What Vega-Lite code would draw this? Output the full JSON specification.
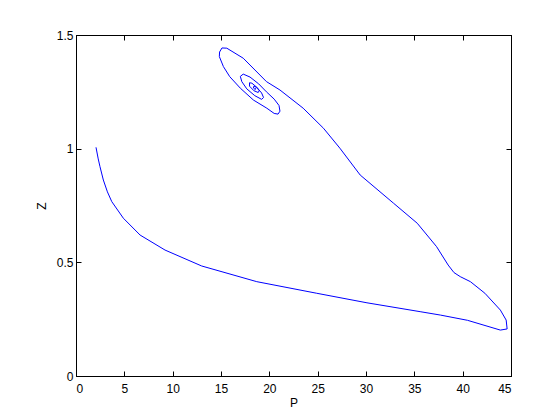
{
  "$schema": "https://vega.github.io/schema/vega-lite/v6.json",
  "width": 435,
  "height": 341,
  "autosize": {"type": "none"},
  "padding": {"left": 76, "top": 35, "right": 47, "bottom": 36},
  "background": "white",
  "config": {
    "view": {"stroke": "#000", "strokeWidth": 1},
    "axis": {
      "domainColor": "#000", "tickColor": "#000", "grid": false,
      "labelFont": "Liberation Sans", "labelFontSize": 12, "labelColor": "#000",
      "titleFont": "Liberation Sans", "titleFontSize": 12, "titleFontWeight": "normal", "titleColor": "#000",
      "tickSize": -5
    }
  },
  "data": {"values": [
    {"i":1,"P":2.07,"Z":1.006},{"i":2,"P":2.3,"Z":0.955},{"i":3,"P":2.48,"Z":0.921},{"i":4,"P":2.83,"Z":0.862},
    {"i":5,"P":3.25,"Z":0.81},{"i":6,"P":3.7,"Z":0.767},{"i":7,"P":4.9,"Z":0.694},{"i":8,"P":6.63,"Z":0.62},
    {"i":9,"P":9.21,"Z":0.554},{"i":10,"P":13.0,"Z":0.484},{"i":11,"P":18.7,"Z":0.415},{"i":12,"P":24.9,"Z":0.364},
    {"i":13,"P":30.1,"Z":0.322},{"i":14,"P":35.6,"Z":0.283},{"i":15,"P":37.7,"Z":0.268},{"i":16,"P":40.5,"Z":0.245},
    {"i":17,"P":43.9,"Z":0.202},{"i":18,"P":44.6,"Z":0.207},{"i":19,"P":44.5,"Z":0.246},{"i":20,"P":43.9,"Z":0.29},
    {"i":21,"P":42.3,"Z":0.364},{"i":22,"P":40.8,"Z":0.415},{"i":23,"P":39.75,"Z":0.437},{"i":24,"P":39.1,"Z":0.455},
    {"i":25,"P":38.5,"Z":0.488},{"i":26,"P":37.3,"Z":0.569},{"i":27,"P":35.3,"Z":0.672},{"i":28,"P":32.85,"Z":0.76},
    {"i":29,"P":29.4,"Z":0.884},{"i":30,"P":27.3,"Z":1.002},{"i":31,"P":25.6,"Z":1.09},{"i":32,"P":23.5,"Z":1.178},
    {"i":33,"P":21.1,"Z":1.258},{"i":34,"P":19.7,"Z":1.295},{"i":35,"P":17.3,"Z":1.398},{"i":36,"P":15.6,"Z":1.442},
    {"i":37,"P":15.1,"Z":1.443},{"i":38,"P":14.85,"Z":1.425},{"i":39,"P":14.83,"Z":1.405},{"i":40,"P":15.25,"Z":1.361},
    {"i":41,"P":15.9,"Z":1.317},{"i":42,"P":17.0,"Z":1.266},{"i":43,"P":18.35,"Z":1.214},{"i":44,"P":19.74,"Z":1.178},
    {"i":45,"P":20.5,"Z":1.155},{"i":46,"P":20.9,"Z":1.152},{"i":47,"P":21.1,"Z":1.165},{"i":48,"P":21.0,"Z":1.19},
    {"i":49,"P":20.5,"Z":1.218},{"i":50,"P":19.7,"Z":1.25},{"i":51,"P":18.9,"Z":1.285},{"i":52,"P":18.0,"Z":1.315},
    {"i":53,"P":17.3,"Z":1.328},{"i":54,"P":17.0,"Z":1.318},{"i":55,"P":17.15,"Z":1.295},{"i":56,"P":17.67,"Z":1.263},
    {"i":57,"P":18.5,"Z":1.233},{"i":58,"P":19.2,"Z":1.217},{"i":59,"P":19.4,"Z":1.225},{"i":60,"P":19.2,"Z":1.245},
    {"i":61,"P":18.7,"Z":1.27},{"i":62,"P":18.2,"Z":1.288},{"i":63,"P":17.95,"Z":1.29},{"i":64,"P":17.95,"Z":1.275},
    {"i":65,"P":18.4,"Z":1.255},{"i":66,"P":18.85,"Z":1.247},{"i":67,"P":18.95,"Z":1.255},{"i":68,"P":18.7,"Z":1.27},
    {"i":69,"P":18.4,"Z":1.275},{"i":70,"P":18.35,"Z":1.267},{"i":71,"P":18.55,"Z":1.26},{"i":72,"P":18.6,"Z":1.265},
    {"i":73,"P":18.5,"Z":1.267}
  ]},
  "layer": [
    {
      "mark": {"type": "point", "opacity": 0, "size": 1},
      "encoding": {
        "x": {"field": "P", "type": "quantitative", "scale": {"domain": [0, 45], "nice": false, "zero": false},
              "axis": {"orient": "top", "title": null, "labels": false, "values": [0,5,10,15,20,25,30,35,40,45]}},
        "y": {"field": "Z", "type": "quantitative", "scale": {"domain": [0, 1.5], "nice": false, "zero": false},
              "axis": {"orient": "right", "title": null, "labels": false, "values": [0,0.5,1,1.5]}}
      }
    },
    {
      "mark": {"type": "line", "color": "#0000ff", "strokeWidth": 1},
      "encoding": {
        "x": {"field": "P", "type": "quantitative", "scale": {"domain": [0, 45], "nice": false, "zero": false},
              "axis": {"orient": "bottom", "title": "P", "values": [0,5,10,15,20,25,30,35,40,45], "format": "~g", "labelPadding": 12, "titlePadding": 3}},
        "y": {"field": "Z", "type": "quantitative", "scale": {"domain": [0, 1.5], "nice": false, "zero": false},
              "axis": {"orient": "left", "title": "Z", "values": [0,0.5,1,1.5], "format": "~g", "labelPadding": 8, "titlePadding": 8}},
        "order": {"field": "i", "type": "quantitative"}
      }
    }
  ],
  "resolve": {"axis": {"x": "independent", "y": "independent"}}
}
